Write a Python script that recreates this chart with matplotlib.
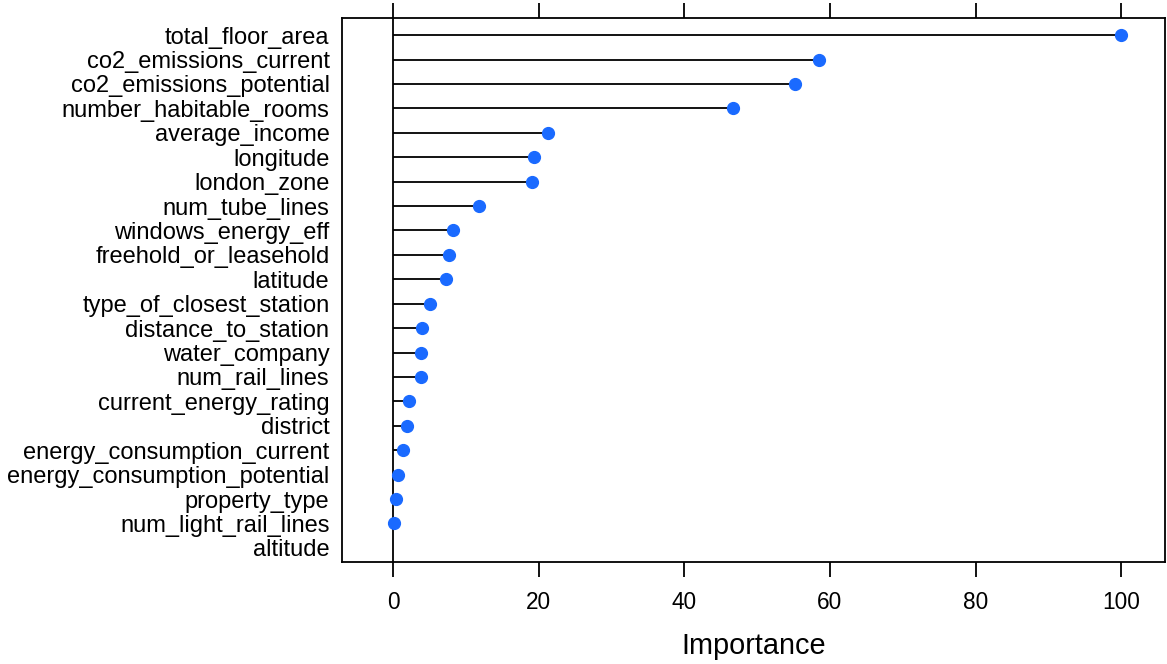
import numpy as np
import matplotlib.pyplot as plt

plt.rcParams['font.family'] = ['Liberation Sans', 'DejaVu Sans']

variaveis = ['total_floor_area', 'co2_emissions_current', 'co2_emissions_potential',
             'number_habitable_rooms', 'average_income', 'longitude', 'london_zone',
             'num_tube_lines', 'windows_energy_eff', 'freehold_or_leasehold', 'latitude',
             'type_of_closest_station', 'distance_to_station', 'water_company',
             'num_rail_lines', 'current_energy_rating', 'district',
             'energy_consumption_current', 'energy_consumption_potential',
             'property_type', 'num_light_rail_lines', 'altitude']
importancia = [100, 58.5, 55.2, 46.7, 21.3, 19.4, 19.1, 11.8, 8.2, 7.7, 7.3,
               5.1, 4.0, 3.9, 3.8, 2.2, 1.9, 1.4, 0.7, 0.4, 0.1, np.nan]

fig = plt.figure(figsize=(11.67, 6.64), dpi=100)
ax = fig.add_axes([342/1167, 1 - 562/664, (1165-342)/1167, (562-18)/664])

y = np.arange(len(variaveis))[::-1]
imp = np.array(importancia, dtype=float)

# linha de referencia no zero
ax.axvline(0, color='black', lw=1.3, zorder=1)
ok = ~np.isnan(imp)
ax.hlines(y[ok], 0, imp[ok], color='black', lw=1.3, zorder=2)
ax.plot(imp[ok], y[ok], 'o', color='#1a6aff', markersize=8.5, zorder=3)

ax.set_xlim(-7, 106)
ax.set_ylim(-0.58, len(variaveis) - 1 + 0.7)
ax.set_yticks(y)
ax.set_yticklabels(variaveis, fontsize=17)
ax.tick_params(axis='y', length=0, pad=9)
ax.set_xticks([0, 20, 40, 60, 80, 100])
ax.tick_params(axis='x', top=True, labeltop=False, direction='out', length=11,
               width=1.3, labelsize=16.3, pad=10)
for s in ax.spines.values():
    s.set_linewidth(1.3)
ax.set_xlabel('Importance', fontsize=20.8, labelpad=13)

plt.savefig('out.png', dpi=100)
